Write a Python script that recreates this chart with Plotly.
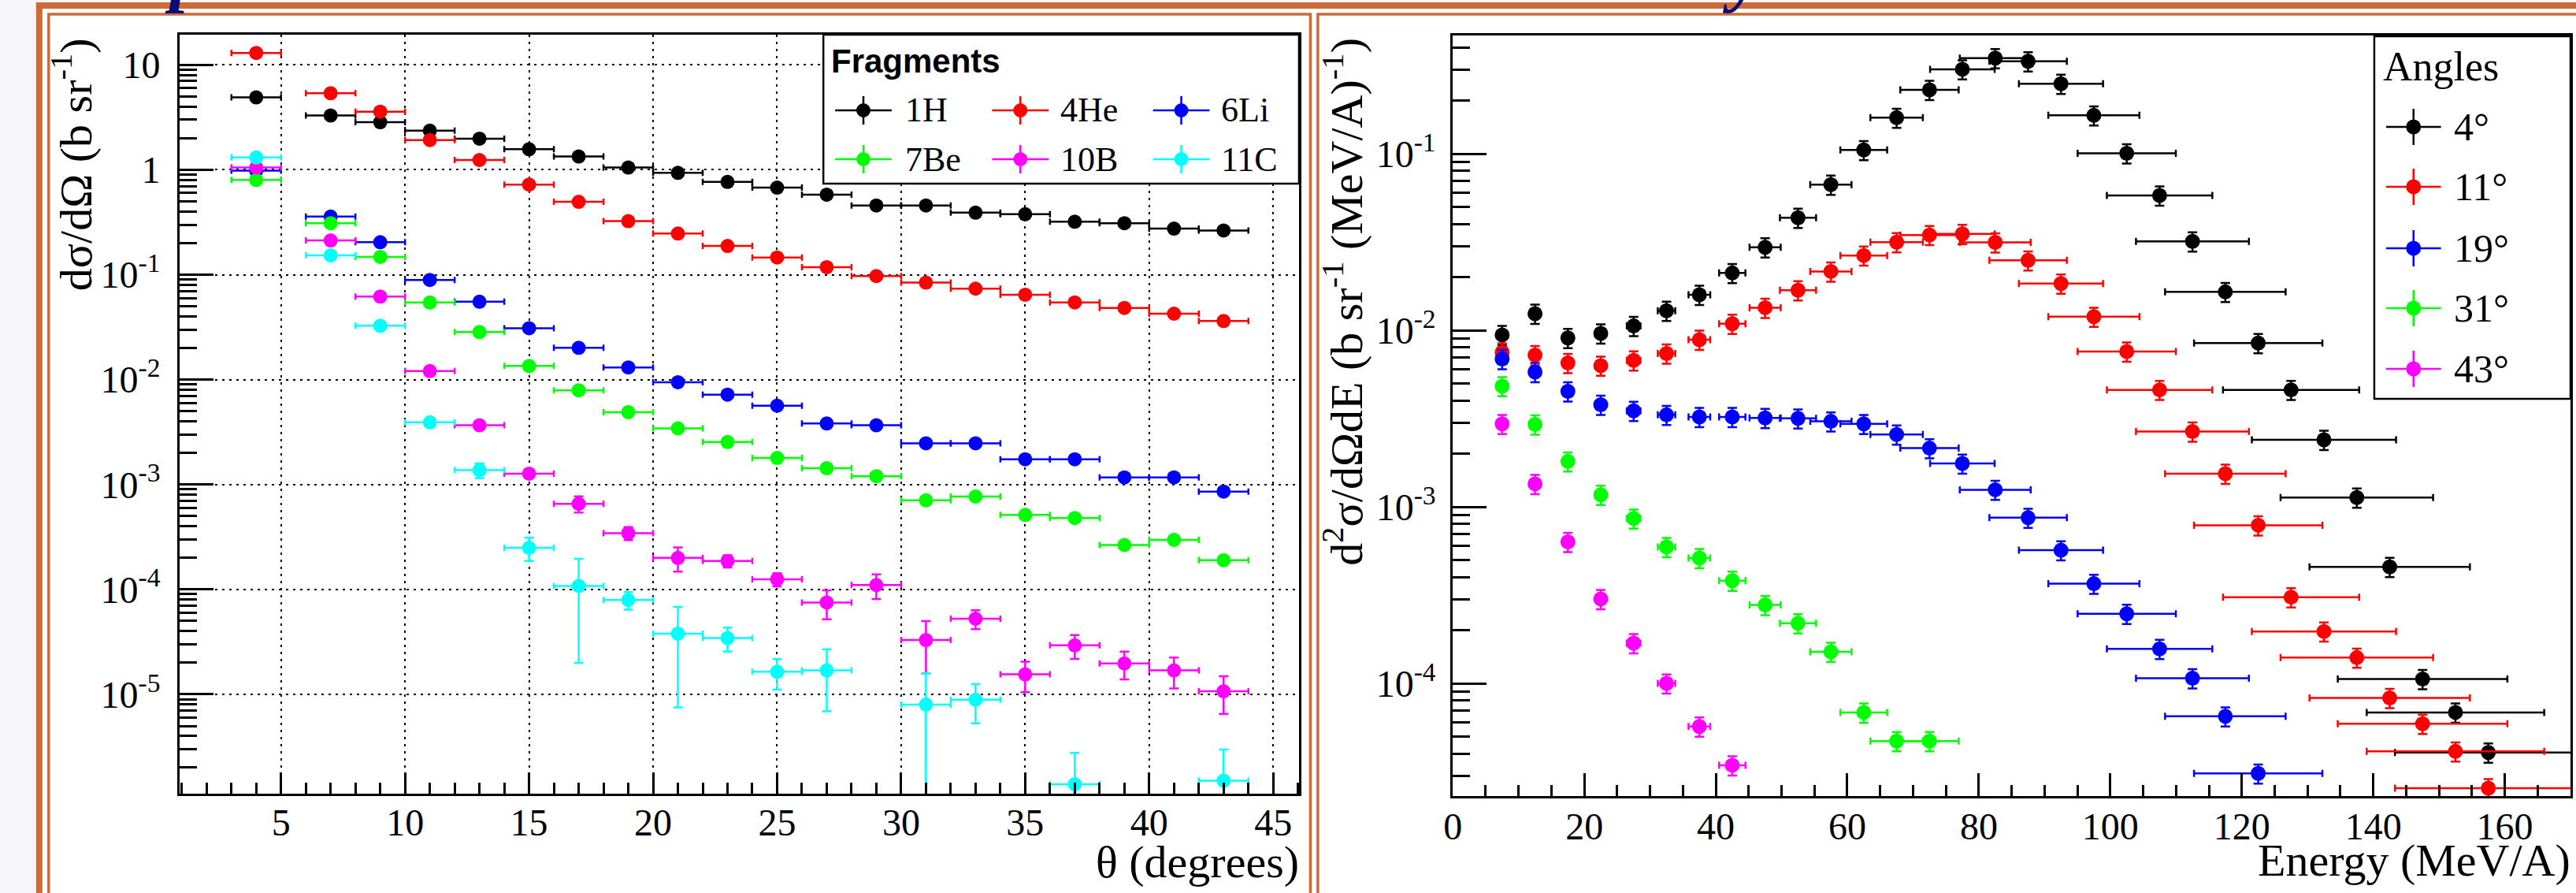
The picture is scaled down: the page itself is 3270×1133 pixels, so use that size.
import plotly.graph_objects as go

W, H = 3270, 1133

# ---------------- Left panel: dσ/dΩ vs θ (fragments) ----------------
theta = [4, 7, 9, 11, 13, 15, 17, 19, 21, 23, 25, 27, 29, 31, 33, 35, 37, 39, 41, 43]
theta_11C = [4, 7, 9, 11, 13, 15, 17, 19, 21, 23, 25, 27, 31, 33, 37, 43]
theta_halfbin = 1.0

xs_1H = [4.9, 3.29, 2.84, 2.36, 1.98, 1.57, 1.34, 1.05, 0.935, 0.766, 0.676, 0.580,
         0.457, 0.457, 0.390, 0.377, 0.320, 0.310, 0.275, 0.264]
xs_4He = [13.0, 5.37, 3.58, 1.92, 1.24, 0.723, 0.495, 0.324, 0.247, 0.188, 0.146, 0.118,
          0.0971, 0.0840, 0.0736, 0.0644, 0.0545, 0.0482, 0.0425, 0.0362]
xs_6Li = [0.98, 0.358, 0.204, 0.0892, 0.0553, 0.0309, 0.0201, 0.01306, 0.00944, 0.00719,
          0.00564, 0.00382, 0.00367, 0.00247, 0.00247, 0.00174, 0.00174, 0.00117, 0.00117, 0.000857]
xs_7Be = [0.80, 0.310, 0.148, 0.0543, 0.0284, 0.0135, 0.00791, 0.0049, 0.00343, 0.00254,
          0.00179, 0.00143, 0.00120, 0.000706, 0.000769, 0.000513, 0.000480, 0.000265, 0.000297, 0.000190]
xs_10B = [1.05, 0.212, 0.0619, 0.01207, 0.00367, 0.00127, 0.000655, 0.000344, 0.000200, 0.000187,
          0.000125, 0.000075, 0.000110, 0.0000329, 0.0000526, 0.0000155, 0.0000293, 0.0000197,
          0.0000169, 0.0000107]
err_10B = [0.04, 0.008, 0.0025, 0.0005, 0.00015, 0.00006, 0.000115, 0.000049, 0.000052, 0.000025,
           0.000018, 0.000023, 0.000029, 0.000017, 0.0000108, 0.000005, 0.0000075, 0.0000058,
           0.0000055, 0.0000042]
xs_11C = [1.31, 0.153, 0.0326, 0.00392, 0.00137, 0.000249, 0.000108, 0.0000793, 0.0000379,
          0.0000344, 0.0000164, 0.0000169, 0.00000798, 0.0000089, 0.00000139, 0.0000015]
err_11C = [0.04, 0.005, 0.0012, 0.0003, 0.00022, 0.000062, 0.000088, 0.000015, 0.0000304,
           0.0000089, 0.0000053, 0.00001, 0.0000079, 0.0000036, 0.00000138, 0.00000148]
err_pct_light = 5.0   # hidden error bars of the abundant fragments (percent)

frag_labels = ["1H", "4He", "6Li", "7Be", "10B", "11C"]
frag_colors = ["#000000", "#ff0000", "#0000ff", "#00ff00", "#ff00ff", "#00ffff"]

# ---------------- Right panel: d2σ/dΩdE vs energy (angles) ----------------
energy = [7.5, 12.5, 17.5, 22.5, 27.5, 32.5, 37.5, 42.5, 47.5, 52.5, 57.5, 62.5, 67.5, 72.5,
          77.5, 82.5, 87.5, 92.5, 97.5, 102.5, 107.5, 112.5, 117.5, 122.5, 127.5, 132.5,
          137.5, 142.5, 147.5, 152.5, 157.5]
energy_halfwidth = [0.15, 0.32, 0.53, 0.77, 1.04, 1.33, 1.65, 2.0, 2.37, 2.75, 3.14, 3.56, 3.99,
                    4.44, 4.91, 5.39, 5.89, 6.4, 6.93, 7.47, 8.02, 8.59, 9.17, 9.76, 10.36,
                    10.97, 11.6, 12.2, 12.9, 13.5, 14.2]
d2s_4deg = [0.00942, 0.01242, 0.00906, 0.00961, 0.0106, 0.01291, 0.0159, 0.02112, 0.02951, 0.0434,
            0.0668, 0.105, 0.160, 0.230, 0.301, 0.348, 0.334, 0.249, 0.165, 0.1006, 0.058,
            0.0319, 0.0165, 0.00847, 0.0046, 0.0024, 0.00113, 0.000457, 0.000106, 0.0000685,
            0.0000406]
d2s_11deg = [0.0075, 0.00724, 0.00653, 0.00631, 0.00675, 0.00739, 0.00885, 0.0109, 0.01343,
             0.01686, 0.02155, 0.02654, 0.03155, 0.03467, 0.0352, 0.0315, 0.0249, 0.0184,
             0.01194, 0.00759, 0.0046, 0.00267, 0.00154, 0.000787, 0.000308, 0.000197,
             0.00014, 0.0000828, 0.0000591, 0.0000412, 0.0000255]
d2s_19deg = [0.00688, 0.00581, 0.00451, 0.00379, 0.0035, 0.00332, 0.00323, 0.00323, 0.00319,
             0.00317, 0.00305, 0.00295, 0.00257, 0.00215, 0.00176, 0.00125, 0.000868,
             0.000568, 0.000367, 0.000248, 0.000157, 0.000107, 0.0000651, 0.0000309]
d2s_31deg = [0.00483, 0.00293, 0.00181, 0.00117, 0.000859, 0.000593, 0.000513, 0.000382,
             0.000278, 0.000219, 0.000151, 0.0000685, 0.0000471, 0.0000471]
d2s_43deg = [0.00295, 0.00135, 0.000633, 0.000301, 0.000169, 0.0001, 0.000057, 0.0000344]
err_pct_energy = 12.5

angle_labels = ["4°", "11°", "19°", "31°", "43°"]
angle_colors = ["#000000", "#ff0000", "#0000ff", "#00ff00", "#ff00ff"]

# ---------------- helpers ----------------
def px(x):
    return x / W


def py(y):
    return 1 - y / H


SERIF = "Liberation Serif, Times New Roman, serif"
SANS = "Liberation Sans, Arial, sans-serif"
ORANGE = "#cd6a37"
NAVY = "#0b0b72"

fig = go.Figure()

left_series = [
    (theta, xs_1H, None), (theta, xs_4He, None), (theta, xs_6Li, None),
    (theta, xs_7Be, None), (theta, xs_10B, err_10B), (theta_11C, xs_11C, err_11C),
]
for (xv, yv, ev), lab, col in zip(left_series, frag_labels, frag_colors):
    if ev is None:
        ey = dict(type="percent", value=err_pct_light, color=col, thickness=2.5, width=6)
    else:
        ey = dict(type="data", array=ev, color=col, thickness=2.5, width=6)
    fig.add_trace(go.Scatter(
        x=xv, y=yv, mode="markers", name=lab, showlegend=False,
        marker=dict(color=col, size=18, line=dict(width=0)),
        error_x=dict(type="constant", value=theta_halfbin, color=col, thickness=2.5, width=4),
        error_y=ey, xaxis="x", yaxis="y"))

right_series = [d2s_4deg, d2s_11deg, d2s_19deg, d2s_31deg, d2s_43deg]
for yv, lab, col in zip(right_series, angle_labels, angle_colors):
    n = len(yv)
    fig.add_trace(go.Scatter(
        x=energy[:n], y=yv, mode="markers", name=lab, showlegend=False,
        marker=dict(color=col, size=19, line=dict(width=0)),
        error_x=dict(type="data", array=energy_halfwidth[:n], color=col, thickness=2.5, width=4.5),
        error_y=dict(type="percent", value=err_pct_energy, color=col, thickness=2.5, width=6),
        xaxis="x2", yaxis="y2"))

# ---------------- axes ----------------
tickfont = dict(family=SERIF, size=48, color="black")
left_major = [1e-5, 1e-4, 1e-3, 1e-2, 1e-1, 1, 10]
left_major_text = ["10<sup>-5</sup>", "10<sup>-4</sup>", "10<sup>-3</sup>", "10<sup>-2</sup>",
                   "10<sup>-1</sup>", "1", "10"]
left_minor = [k * 10.0 ** e for e in range(-6, 2) for k in range(2, 10)
              if 1.13e-6 < k * 10.0 ** e < 19.4]
right_major = [1e-4, 1e-3, 1e-2, 1e-1]
right_major_text = ["10<sup>-4</sup>", "10<sup>-3</sup>", "10<sup>-2</sup>", "10<sup>-1</sup>"]
right_minor = [k * 10.0 ** e for e in range(-5, 0) for k in range(2, 10)
               if 2.3e-5 < k * 10.0 ** e < 0.468]

axis_common = dict(showline=True, linecolor="black", linewidth=3, mirror=True,
                   ticks="inside", tickcolor="black", tickwidth=3, tickfont=tickfont,
                   zeroline=False)

fig.update_layout(
    xaxis=dict(domain=[px(217), px(1643)], range=[0.918, 46.04], anchor="y",
               tickmode="linear", tick0=0, dtick=5, ticklen=27,
               minor=dict(ticks="inside", ticklen=14, tickwidth=3, tickcolor="black",
                          tick0=0, dtick=1, showgrid=False),
               showgrid=True, gridcolor="black", gridwidth=2, griddash="3px,6px",
               ticklabelstandoff=-8, **axis_common),
    yaxis=dict(domain=[py(1007), py(44)], type="log", range=[-5.947, 1.288], anchor="x",
               tickmode="array", tickvals=left_major, ticktext=left_major_text, ticklen=43,
               minor=dict(ticks="inside", ticklen=22, tickwidth=3, tickcolor="black",
                          tickmode="array", tickvals=left_minor, showgrid=False),
               showgrid=True, gridcolor="black", gridwidth=2, griddash="3px,6px",
               ticklabelstandoff=12, **axis_common),
    xaxis2=dict(domain=[px(1839), px(3263)], range=[0, 170], anchor="y2",
                tickmode="linear", tick0=0, dtick=20, ticklen=29,
                minor=dict(ticks="inside", ticklen=14, tickwidth=3, tickcolor="black",
                           tick0=0, dtick=5, showgrid=False),
                showgrid=False, ticklabelstandoff=-6, **axis_common),
    yaxis2=dict(domain=[py(1010), py(45)], type="log", range=[-4.638, -0.330], anchor="x2",
                tickmode="array", tickvals=right_major, ticktext=right_major_text, ticklen=43,
                minor=dict(ticks="inside", ticklen=22, tickwidth=3, tickcolor="black",
                           tickmode="array", tickvals=right_minor, showgrid=False),
                showgrid=False, ticklabelstandoff=9, **axis_common),
)

# ---------------- decorations: frames ----------------
shapes = [
    dict(type="rect", xref="paper", yref="paper", x0=px(34), x1=px(3290), y0=py(1150), y1=py(3),
         fillcolor="white", line=dict(width=0), layer="below"),
    dict(type="rect", xref="paper", yref="paper", x0=px(34), x1=px(3290), y0=py(11), y1=py(3),
         fillcolor=ORANGE, line=dict(width=0), layer="below"),
    dict(type="rect", xref="paper", yref="paper", x0=px(34), x1=px(42), y0=py(1150), y1=py(3),
         fillcolor=ORANGE, line=dict(width=0), layer="below"),
    dict(type="rect", xref="paper", yref="paper", x0=px(50), x1=px(1657.5), y0=py(1150), y1=py(18),
         line=dict(color=ORANGE, width=3.5), layer="below"),
    dict(type="rect", xref="paper", yref="paper", x0=px(1667), x1=px(3300), y0=py(1150), y1=py(18),
         line=dict(color=ORANGE, width=3.5), layer="below"),
]

annotations = []

# cut-off slide title glyphs peeking in at the top edge
annotations += [
    dict(text="<b><i>p</i></b>", xref="paper", yref="paper", x=px(196), y=py(19),
         xanchor="left", yanchor="bottom", showarrow=False,
         font=dict(family=SERIF, size=90, color=NAVY)),
    dict(text="<b><i>y</i></b>", xref="paper", yref="paper", x=px(2180), y=py(19),
         xanchor="left", yanchor="bottom", showarrow=False,
         font=dict(family=SERIF, size=90, color=NAVY)),
]

# ---------------- legend: Fragments ----------------
shapes.append(dict(type="rect", xref="paper", yref="paper", x0=px(1037), x1=px(1643),
                   y0=py(233), y1=py(44), fillcolor="white", line=dict(color="black", width=2.5),
                   layer="above"))
annotations.append(dict(text="<b>Fragments</b>", xref="paper", yref="paper", x=px(1045), y=py(78),
                        xanchor="left", yanchor="middle", showarrow=False,
                        font=dict(family=SANS, size=42, color="black")))
frag_sym_x = [1088, 1288, 1493]
frag_txt_x = [1139, 1337, 1542]
frag_row_y = [140, 202]
for i, (lab, col) in enumerate(zip(frag_labels, frag_colors)):
    cx, tx, cy = frag_sym_x[i % 3], frag_txt_x[i % 3], frag_row_y[i // 3]
    shapes.append(dict(type="line", xref="paper", yref="paper", x0=px(cx - 36), x1=px(cx + 36),
                       y0=py(cy), y1=py(cy), line=dict(color=col, width=2.5), layer="above"))
    shapes.append(dict(type="line", xref="paper", yref="paper", x0=px(cx), x1=px(cx),
                       y0=py(cy + 18), y1=py(cy - 18), line=dict(color=col, width=2.5), layer="above"))
    shapes.append(dict(type="circle", xref="paper", yref="paper", x0=px(cx - 9), x1=px(cx + 9),
                       y0=py(cy + 9), y1=py(cy - 9), fillcolor=col, line=dict(width=0), layer="above"))
    annotations.append(dict(text=lab, xref="paper", yref="paper", x=px(tx), y=py(cy),
                            xanchor="left", yanchor="middle", showarrow=False,
                            font=dict(family=SERIF, size=44, color="black")))

# ---------------- legend: Angles ----------------
shapes.append(dict(type="rect", xref="paper", yref="paper", x0=px(3013), x1=px(3263),
                   y0=py(506), y1=py(46), fillcolor="white", line=dict(color="black", width=2.5),
                   layer="above"))
annotations.append(dict(text="Angles", xref="paper", yref="paper", x=px(3022), y=py(84),
                        xanchor="left", yanchor="middle", showarrow=False,
                        font=dict(family=SERIF, size=52, color="black")))
angle_row_y = [161, 237, 315, 391, 468]
for lab, col, cy in zip(angle_labels, angle_colors, angle_row_y):
    cx = 3063
    shapes.append(dict(type="line", xref="paper", yref="paper", x0=px(cx - 35), x1=px(cx + 35),
                       y0=py(cy), y1=py(cy), line=dict(color=col, width=2.5), layer="above"))
    shapes.append(dict(type="line", xref="paper", yref="paper", x0=px(cx), x1=px(cx),
                       y0=py(cy + 23), y1=py(cy - 23), line=dict(color=col, width=2.5), layer="above"))
    shapes.append(dict(type="circle", xref="paper", yref="paper", x0=px(cx - 9.5), x1=px(cx + 9.5),
                       y0=py(cy + 9.5), y1=py(cy - 9.5), fillcolor=col, line=dict(width=0),
                       layer="above"))
    annotations.append(dict(text=lab, xref="paper", yref="paper", x=px(3112), y=py(cy),
                            xanchor="left", yanchor="middle", showarrow=False,
                            font=dict(family=SERIF, size=50, color="black")))

# ---------------- axis titles ----------------
title_font = dict(family=SERIF, size=58, color="black")
annotations += [
    dict(text="θ (degrees)", xref="paper", yref="paper", x=px(1645), y=py(1093),
         xanchor="right", yanchor="middle", showarrow=False, font=title_font),
    dict(text="Energy (MeV/A)", xref="paper", yref="paper", x=px(3265), y=py(1091),
         xanchor="right", yanchor="middle", showarrow=False, font=title_font),
    dict(text="dσ/dΩ (b sr<sup>-1</sup>)", xref="paper", yref="paper", x=px(80), y=py(46),
         xanchor="center", yanchor="top", textangle=-90, showarrow=False, font=title_font),
    dict(text="d<sup>2</sup>σ/dΩdE (b sr<sup>-1</sup> (MeV/A)<sup>-1</sup>)", xref="paper",
         yref="paper", x=px(1700), y=py(46), xanchor="center", yanchor="top", textangle=-90,
         showarrow=False, font=title_font),
]

fig.update_layout(
    width=W, height=H, autosize=False,
    margin=dict(l=0, r=0, t=0, b=0, pad=0),
    paper_bgcolor="#f5f5fa", plot_bgcolor="rgba(0,0,0,0)",
    shapes=shapes, annotations=annotations, showlegend=False,
)

fig.write_html("out.html", config={"displayModeBar": False},
               post_script="document.body.style.margin='0';document.body.style.overflow='hidden';")
